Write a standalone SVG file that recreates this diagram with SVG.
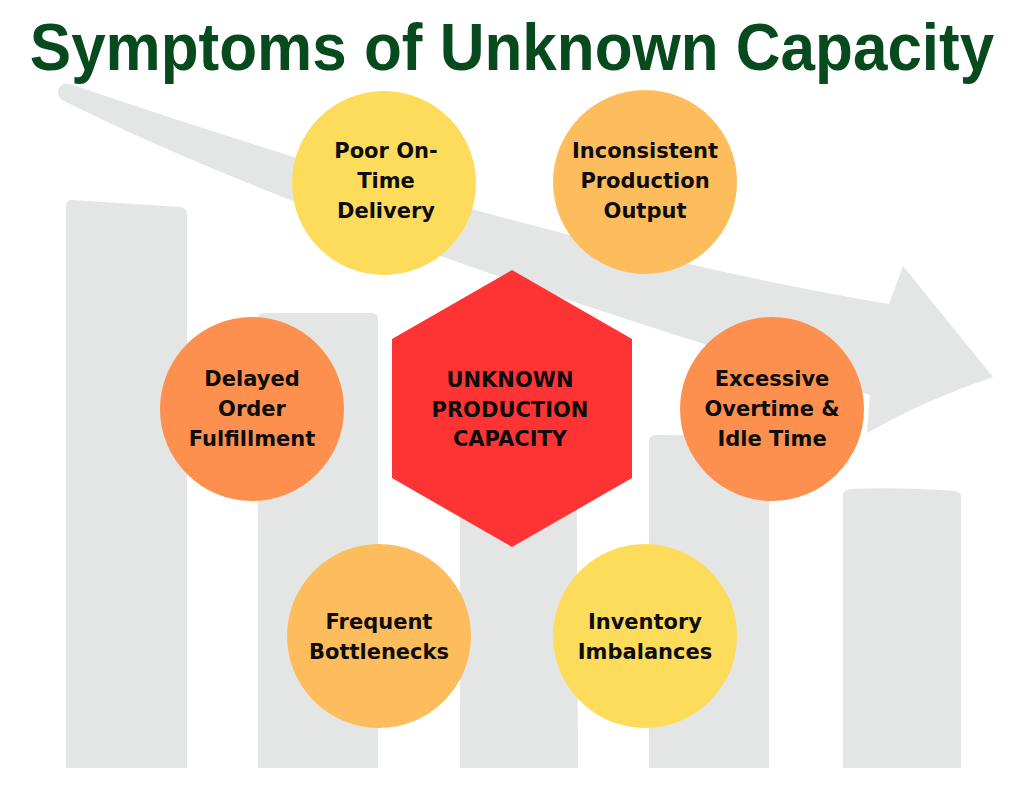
<svg xmlns="http://www.w3.org/2000/svg" width="1024" height="791" viewBox="0 0 1024 791">
<style>
.bg{fill:#e4e5e5}
.lbl{font-family:"DejaVu Sans","Noto Sans",sans-serif;font-weight:bold;font-size:21px;fill:#0d0d0d;text-anchor:middle}
.title{font-family:"Liberation Sans",Arial,sans-serif;font-weight:bold;font-size:62px;fill:#064a1d;text-anchor:middle}
.yel{fill:#fddc5c}
.lor{fill:#fdbd5c}
.org{fill:#fd904e}
</style>
<rect width="1024" height="791" fill="#ffffff"/>
<g id="background">
<path class="bg" d="M66,768 L66,206 Q66,200 72,200 L180,207 Q187,208 187,214 L187,768 Z"/>
<path class="bg" d="M258,768 L258,318 Q258,313 264,313 L372,313 Q378,313 378,319 L378,768 Z"/>
<path class="bg" d="M460,768 L460,330 L576,330 L578,768 Z"/>
<path class="bg" d="M649,768 L649,441 Q649,435 656,435 L762,436 Q769,436 769,442 L769,768 Z"/>
<path class="bg" d="M843,768 L843,495 Q843,490 850,489 Q900,487 955,491 Q961,492 961,497 L961,768 Z"/>
</g>
<g id="connectors">
<path class="bg" d="M70,84 Q545,246 889,304 L903,266 L993,377 Q925,400 867,433 L870,395 Q325,232 62,100 A9 9 0 0 1 70,84 Z"/>
</g>
<g id="title">
<text class="title" transform="translate(512,70) scale(1,1.08)" x="0" y="0">Symptoms of Unknown Capacity</text>
</g>
<g id="center">
<polygon points="512,270 632,339 632,478 512,547 392,478 392,339" fill="#fe3434"/>
<text class="lbl" x="510" y="387">UNKNOWN</text>
<text class="lbl" x="510" y="417">PRODUCTION</text>
<text class="lbl" x="510" y="446">CAPACITY</text>
</g>
<g id="poor-on-time">
<circle class="yel" cx="384" cy="183" r="92"/>
<text class="lbl" x="386" y="158">Poor On-</text>
<text class="lbl" x="386" y="188">Time</text>
<text class="lbl" x="386" y="218">Delivery</text>
</g>
<g id="inconsistent">
<circle class="lor" cx="645" cy="182" r="92"/>
<text class="lbl" x="645" y="158">Inconsistent</text>
<text class="lbl" x="645" y="188">Production</text>
<text class="lbl" x="645" y="218">Output</text>
</g>
<g id="delayed">
<circle class="org" cx="252" cy="409" r="92"/>
<text class="lbl" x="252" y="386">Delayed</text>
<text class="lbl" x="252" y="416">Order</text>
<text class="lbl" x="252" y="446">Fulfillment</text>
</g>
<g id="excessive">
<circle class="org" cx="772" cy="409" r="92"/>
<text class="lbl" x="772" y="386">Excessive</text>
<text class="lbl" x="772" y="416">Overtime &amp;</text>
<text class="lbl" x="772" y="446">Idle Time</text>
</g>
<g id="frequent">
<circle class="lor" cx="379" cy="636" r="92"/>
<text class="lbl" x="379" y="629">Frequent</text>
<text class="lbl" x="379" y="659">Bottlenecks</text>
</g>
<g id="inventory">
<circle class="yel" cx="645" cy="636" r="92"/>
<text class="lbl" x="645" y="629">Inventory</text>
<text class="lbl" x="645" y="659">Imbalances</text>
</g>
</svg>
